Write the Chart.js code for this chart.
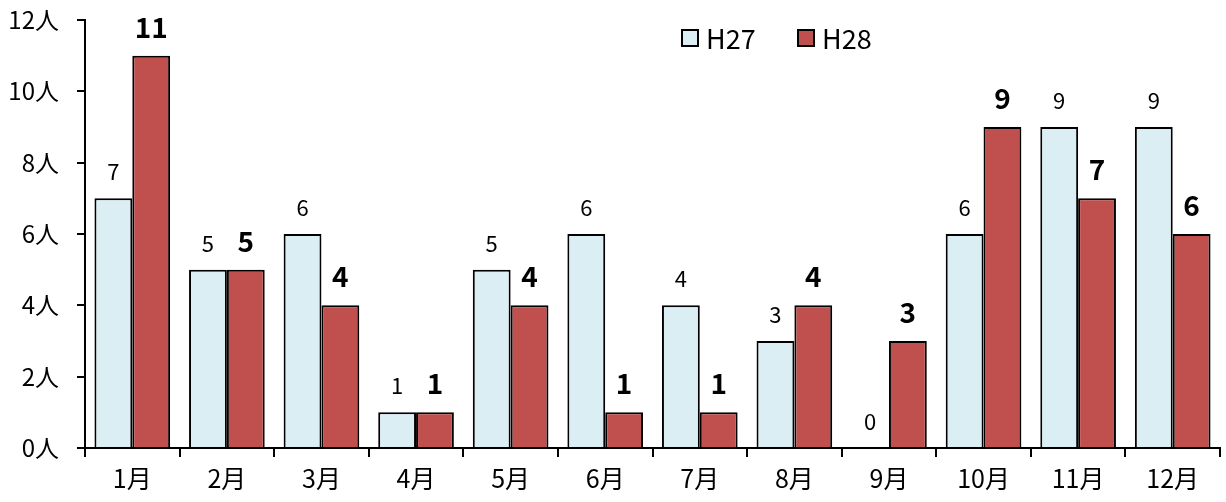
<!DOCTYPE html>
<html>
<head>
<meta charset="utf-8">
<script src="https://cdn.jsdelivr.net/npm/chart.js@4/dist/chart.umd.min.js"></script>
<style>
html,body{margin:0;padding:0;background:#fff;}
#wrap{width:1226px;height:502px;}
</style>
</head>
<body>
<div id="wrap"><canvas id="c" width="1226" height="502"></canvas></div>
<script>
const categories = ['1月','2月','3月','4月','5月','6月','7月','8月','9月','10月','11月','12月'];
const seriesNames = ['H27','H28'];
const h27 = [7,5,6,1,5,6,4,3,0,6,9,9];
const h28 = [11,5,4,1,4,1,1,4,3,9,7,6];
const yTicks = [0,2,4,6,8,10,12];

const FONT = "'Noto Sans CJK JP','Noto Sans',sans-serif";

const labelPlugin = {
  id: 'valueLabels',
  afterDatasetsDraw(chart) {
    const ctx = chart.ctx;
    ctx.save();
    ctx.fillStyle = '#000';
    ctx.textAlign = 'center';
    ctx.textBaseline = 'alphabetic';
    chart.data.datasets.forEach((ds, di) => {
      const meta = chart.getDatasetMeta(di);
      ctx.font = di === 0 ? `22px ${FONT}` : `bold 28px ${FONT}`;
      meta.data.forEach((el, i) => {
        ctx.fillText(String(ds.data[i]), el.x, el.y - 18);
      });
    });
    ctx.restore();
  }
};

const legendPlugin = {
  id: 'customLegend',
  afterDraw(chart) {
    const ctx = chart.ctx;
    ctx.save();
    ctx.font = `27px ${FONT}`;
    ctx.textBaseline = 'middle';
    ctx.textAlign = 'left';
    const items = [{x: 682}, {x: 798}];
    chart.data.datasets.forEach((ds, i) => {
      const x = items[i].x, y = 38;
      ctx.fillStyle = ds.backgroundColor;
      ctx.fillRect(x, y - 8, 16, 16);
      ctx.strokeStyle = '#000';
      ctx.lineWidth = 2;
      ctx.strokeRect(x, y - 8, 16, 16);
      ctx.fillStyle = '#000';
      ctx.fillText(ds.label, x + 24, y + 1);
    });
    ctx.restore();
  }
};

new Chart(document.getElementById('c'), {
  type: 'bar',
  data: {
    labels: categories,
    datasets: [
      {label: seriesNames[0], data: h27, backgroundColor: '#DBEEF4', borderColor: '#000', borderWidth: 2, categoryPercentage: 0.8, barPercentage: 1.0},
      {label: seriesNames[1], data: h28, backgroundColor: '#C0504D', borderColor: '#000', borderWidth: 2, categoryPercentage: 0.8, barPercentage: 1.0}
    ]
  },
  options: {
    responsive: false,
    animation: false,
    layout: {padding: {top: 20, right: 6, left: 0, bottom: 0}},
    plugins: {legend: {display: false}, tooltip: {enabled: false}},
    scales: {
      x: {
        grid: {display: true, drawOnChartArea: false, drawTicks: true, tickLength: 9, color: '#000', lineWidth: 2, offset: true},
        border: {display: true, color: '#000', width: 2},
        ticks: {color: '#000', font: {family: FONT, size: 25}, padding: 6, maxRotation: 0},
        afterFit(scale) { scale.height = 54; scale.paddingLeft = 0; scale.paddingRight = 0; }
      },
      y: {
        min: 0, max: 12,
        afterBuildTicks(scale) { scale.ticks = yTicks.map(v => ({value: v})); },
        grid: {display: true, drawOnChartArea: false, drawTicks: true, tickLength: 8, color: '#000', lineWidth: 2},
        border: {display: true, color: '#000', width: 2},
        ticks: {color: '#000', font: {family: FONT, size: 24}, padding: 18, callback: v => v + '人'},
        afterFit(scale) { scale.width = 85; scale.paddingTop = 0; scale.paddingBottom = 0; }
      }
    }
  },
  plugins: [labelPlugin, legendPlugin]
});
</script>
</body>
</html>
